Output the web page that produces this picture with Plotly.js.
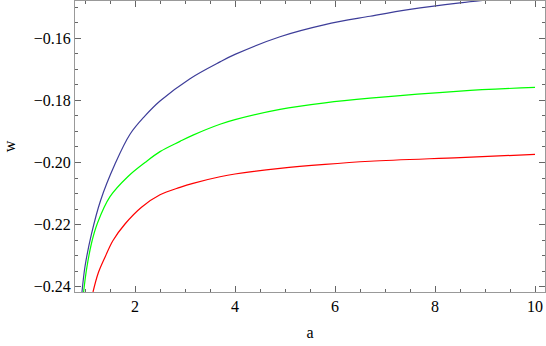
<!DOCTYPE html>
<html>
<head>
<meta charset="utf-8">
<script src="https://cdn.plot.ly/plotly-3.0.1.min.js"></script>
<style>
  html, body { margin: 0; padding: 0; background: #fff; }
  #chart { width: 546px; height: 346px; }
</style>
</head>
<body>
<div id="chart"></div>
<script>
// values
const blueA = [0.94, 1.0, 1.13, 1.31, 1.6, 1.9, 2.2, 2.5, 3.1, 3.7, 4.0, 4.9, 5.8, 6.7, 7.5, 8.5, 9.2, 10];
const blueW = [-0.2417, -0.2335, -0.2230, -0.2123, -0.2005, -0.1909, -0.1850, -0.1802, -0.1730, -0.1676, -0.1652, -0.1595, -0.1556, -0.1529, -0.1507, -0.1486, -0.1474, -0.1462];

const greenA = [0.97, 1.03, 1.13, 1.25, 1.5, 1.86, 2.2, 2.5, 2.9, 3.16, 3.7, 4.0, 4.9, 5.8, 6.7, 8.5, 10];
const greenW = [-0.2420, -0.2345, -0.2260, -0.2195, -0.2110, -0.2045, -0.2000, -0.1965, -0.1932, -0.1912, -0.1877, -0.1862, -0.1829, -0.1808, -0.1793, -0.1770, -0.1758];

const redA = [1.16, 1.26, 1.40, 1.56, 1.80, 2.13, 2.5, 2.9, 3.16, 3.7, 4.0, 4.9, 5.8, 6.7, 8.5, 10];
const redW = [-0.2417, -0.2358, -0.2305, -0.2251, -0.2198, -0.2144, -0.2104, -0.2080, -0.2067, -0.2046, -0.2037, -0.2019, -0.2006, -0.1996, -0.1984, -0.1974];

const FONT = 'Liberation Serif, Times New Roman, serif';
const TICK_COLOR = '#666666';

const curve = (x, y, color) => ({
  type: 'scatter',
  mode: 'lines',
  x, y,
  line: { color, width: 1.2, shape: 'spline', smoothing: 1 },
  hoverinfo: 'skip',
});

const traces = [
  curve(blueA, blueW, '#3d3d99'),
  curve(greenA, greenW, '#00ff00'),
  curve(redA, redW, '#ff0000'),
];

const layout = {
  width: 546,
  height: 346,
  paper_bgcolor: '#ffffff',
  plot_bgcolor: '#ffffff',
  margin: { t: 1, r: 1, b: 54, l: 75 },
  showlegend: false,
  xaxis: {
    range: [0.8, 10.2],
    dtick: 2,
    showgrid: false,
    zeroline: false,
    showline: true,
    linecolor: '#999999',
    mirror: 'ticks',
    ticks: 'inside',
    ticklen: 6,
    tickwidth: 1,
    tickcolor: TICK_COLOR,
    tickfont: { family: FONT, size: 16, color: '#000' },
    minor: { ticks: 'inside', ticklen: 3, tickwidth: 1, tickcolor: TICK_COLOR, dtick: 0.5 },
    title: { text: 'a', font: { family: FONT, size: 16, color: '#000' }, standoff: 12 },
  },
  yaxis: {
    range: [-0.2417, -0.148],
    dtick: 0.02,
    tickformat: '.2f',
    showgrid: false,
    zeroline: false,
    showline: true,
    linecolor: '#999999',
    mirror: 'ticks',
    ticks: 'inside',
    ticklen: 6,
    tickwidth: 1,
    tickcolor: TICK_COLOR,
    tickfont: { family: FONT, size: 16, color: '#000' },
    minor: { ticks: 'inside', ticklen: 3, tickwidth: 1, tickcolor: TICK_COLOR, dtick: 0.005 },
    title: { text: 'w', font: { family: FONT, size: 16, color: '#000' }, standoff: 14 },
  },
};

Plotly.newPlot('chart', traces, layout, { displayModeBar: false });
</script>
</body>
</html>
